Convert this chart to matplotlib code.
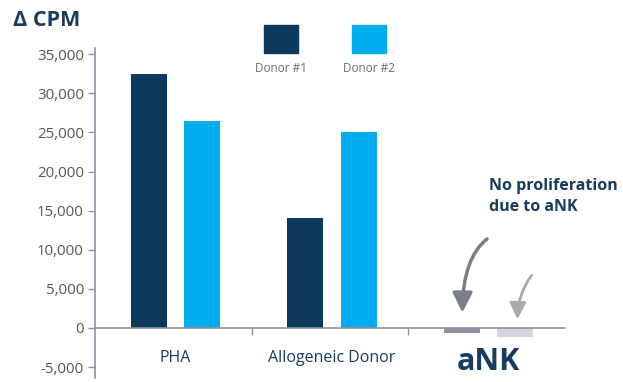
import matplotlib
matplotlib.use("Agg")
import matplotlib.pyplot as plt
import numpy as np

categories = ["PHA", "Allogeneic Donor", "aNK"]
donor1 = [32500, 14000, -600]
donor2 = [26500, 25000, -1200]
series_names = ["Donor #1", "Donor #2"]
yticks = [-5000, 0, 5000, 10000, 15000, 20000, 25000, 30000, 35000]

c1 = "#0b3a5d"
c2 = "#00aeef"
c1_ank = "#8d949e"
c2_ank = "#d2d5da"
axis_col = "#8a93a6"
navy = "#173c5f"

plt.rcParams['font.family'] = ['Open Sans', 'DejaVu Sans']

fig = plt.figure(figsize=(6.23, 3.82), dpi=100)
ax = fig.add_axes([95/623, 1-378/382, (565-95)/623, (378-48)/382])

x = np.arange(len(categories))
w = 0.23
off = 0.171
cols1 = [c1, c1, c1_ank]
cols2 = [c2, c2, c2_ank]
ax.bar(x - off, donor1, w, color=cols1, zorder=2)
ax.bar(x + off, donor2, w, color=cols2, zorder=2)

ax.set_xlim(-0.513, 2.49)
ax.set_ylim(-6400, 35800)
ax.set_yticks(yticks)
ax.set_yticklabels([f"{v:,}" for v in yticks], fontsize=10.8, color="#555555")
ax.tick_params(axis='y', color=axis_col, length=5, width=1, pad=3)
ax.set_xticks([0.49, 1.49])
ax.set_xticklabels([])
ax.tick_params(axis='x', color=axis_col, length=5, width=1, direction='out')

for s in ["top", "right"]:
    ax.spines[s].set_visible(False)
ax.spines["bottom"].set_position(("data", 0))
ax.spines["bottom"].set_color(axis_col)
ax.spines["bottom"].set_linewidth(1.2)
ax.spines["bottom"].set_zorder(3)
ax.spines["left"].set_color(axis_col)
ax.spines["left"].set_linewidth(1.2)

# category labels
for i, lab in enumerate(categories[:2]):
    ax.text(x[i], -3900, lab, ha="center", va="center", fontsize=11.5, color=navy)
ax.text(x[2], -4300, categories[2], ha="center", va="center", fontsize=22,
        fontweight="bold", color=navy)

# title
fig.text(13/623, 1-20/382, "Δ CPM", ha="left", va="center", fontsize=15.5,
         fontweight="bold", color=navy)

# legend
for name, col, cx in zip(series_names, [c1, c2], [281, 369]):
    fig.patches.append(plt.Rectangle(((cx-17)/623, 1-53/382), 34/623, 28/382,
                                     transform=fig.transFigure, color=col))
    fig.text(cx/623, 1-69/382, name, ha="center", va="center", fontsize=8.5,
             color="#6b6b6b")

# annotation
ax.text(2.005, 16800, "No proliferation\ndue to aNK", ha="left", va="center",
        fontsize=11.5, fontweight="bold", color=navy, linespacing=1.35)
ax.annotate("", xy=(x[2]-off+0.005, 1600), xytext=(2.006, 11600),
            arrowprops=dict(arrowstyle="-|>,head_width=0.6,head_length=1.2",
                            color="#7a7f86", lw=2.5,
                            connectionstyle="angle3,angleA=35,angleB=90"))
ax.annotate("", xy=(x[2]+off+0.015, 750), xytext=(2.288, 7000),
            arrowprops=dict(arrowstyle="-|>,head_width=0.5,head_length=1.0",
                            color="#a7abb0", lw=2,
                            connectionstyle="angle3,angleA=50,angleB=90"))

fig.savefig("out.png", dpi=100)
